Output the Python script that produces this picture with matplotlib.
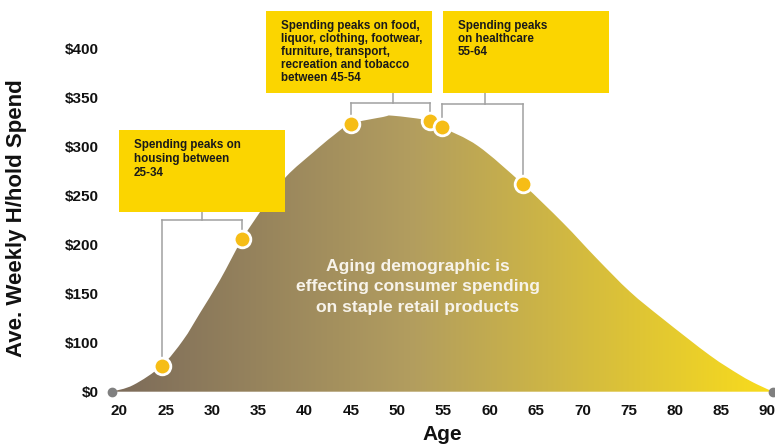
import numpy as np
import matplotlib
matplotlib.use('Agg')
import matplotlib.pyplot as plt
from matplotlib.colors import LinearSegmentedColormap
from matplotlib.patches import PathPatch, Rectangle
from matplotlib.path import Path

plt.rcParams['font.family'] = ['Liberation Sans', 'DejaVu Sans']
plt.rcParams['font.weight'] = 'bold'

# curve (y in axis units, one tick step = 50)
ages = [19.16, 21.49, 24.56, 26.89, 28.70, 30.86, 33.27, 35.90, 38.06, 40.90, 43.06,
        44.98, 48.46, 49.55, 53.54, 54.89, 58.73, 63.56, 67.94, 71.55, 75.15,
        78.74, 83.79, 87.03, 88.87, 90.63]
spend = [0, 6.8, 26.5, 52.8, 80.3, 114, 155.8, 193, 220, 244, 261,
         273.2, 280.3, 281.6, 276.5, 269.6, 250.7, 211.9, 172, 136, 102,
         74, 37, 17, 7.5, 0]

peak_ages = [24.56, 33.27, 44.98, 53.54, 54.89, 63.56]
peak_spend = [26.5, 155.8, 273.2, 276.5, 269.6, 211.9]

ytick_labels = ['$0', '$100', '$150', '$200', '$250', '$300', '$350', '$400']
xticks = list(range(20, 95, 5))

notes = [
    'Spending peaks on\nhousing between\n25-34',
    'Spending peaks on food,\nliquor, clothing, footwear,\nfurniture, transport,\nrecreation and tobacco\nbetween 45-54',
    'Spending peaks\non healthcare\n55-64',
]
# box (x0, x1, y0, y1), text x, stem x, bar y, marker pair, line spacing
note_layout = [
    ((19.95, 37.88, 183.7, 267.0), 21.57, 28.91, 175.2, (0, 1), 1.22),
    ((35.83, 53.73, 305.1, 388.5), 37.41, 49.58, 294.9, (2, 3), 1.12),
    ((54.95, 72.85, 305.1, 388.5), 56.53, 59.48, 293.6, (4, 5), 1.12),
]


def smooth_area(x, y):
    pts = np.column_stack([x, y])
    n = len(pts)
    verts = [pts[0]]
    codes = [Path.MOVETO]
    for k in range(n - 1):
        p0, p1 = pts[max(k - 1, 0)], pts[k]
        p2, p3 = pts[k + 1], pts[min(k + 2, n - 1)]
        verts += [p1 + (p2 - p0) / 6, p2 - (p3 - p1) / 6, p2]
        codes += [Path.CURVE4] * 3
    verts += [pts[0], pts[0]]
    codes += [Path.LINETO, Path.CLOSEPOLY]
    return Path(verts, codes)


fig = plt.figure(figsize=(7.75, 4.48), dpi=100)
ax = fig.add_axes([111.7 / 775, (448 - 396.6) / 448, 661.6 / 775, (396.6 - 38.9) / 448])

cmap = LinearSegmentedColormap.from_list('spend', [(0, '#7c6b5a'), (0.45, '#b29d5f'), (1, '#f9dc1c')])
grad = np.linspace(0, 1, 256).reshape(1, -1)
im = ax.imshow(grad, cmap=cmap, extent=[ages[0], ages[-1], 0, max(spend) + 5],
               aspect='auto', zorder=1)
area = PathPatch(smooth_area(ages, spend), facecolor='none', edgecolor='none')
ax.add_patch(area)
im.set_clip_path(area)

ax.plot([ages[0], ages[-1]], [0, 0], 'o', ms=6, color='#808080', zorder=3, clip_on=False)
ax.plot(peak_ages, peak_spend, 'o', ms=12, mfc='#f6bd16', mec='white', mew=2,
        zorder=5, clip_on=False)

line_kw = dict(color='#a0a0a0', lw=1.1, zorder=4, clip_on=False)
for text, (box, tx, stem_x, bar_y, (i, j), ls) in zip(notes, note_layout):
    x0, x1, y0, y1 = box
    ax.add_patch(Rectangle((x0, y0), x1 - x0, y1 - y0, facecolor='#fbd500',
                           edgecolor='none', zorder=6, clip_on=False))
    ax.text(tx, y1 - 9, text, fontsize=8.4, color='#1a1a1a', va='top', ha='left',
            linespacing=ls, zorder=7, clip_on=False)
    ax.plot([stem_x, stem_x], [y0, bar_y], **line_kw)
    ax.plot([peak_ages[i], peak_ages[j]], [bar_y, bar_y], **line_kw)
    ax.plot([peak_ages[i], peak_ages[i]], [bar_y, peak_spend[i] + 9], **line_kw)
    ax.plot([peak_ages[j], peak_ages[j]], [bar_y, peak_spend[j] + 9], **line_kw)

ax.text(52.25, 107, 'Aging demographic is\neffecting consumer spending\non staple retail products',
        fontsize=12.6, color='#f7f3ea', ha='center', va='center', linespacing=1.45, zorder=3)

ax.set_xlim(ages[0], ages[-1])
ax.set_ylim(-5, 360)
ax.set_xticks(xticks)
ax.set_yticks(np.arange(len(ytick_labels)) * 50, ytick_labels)
ax.tick_params(length=0, labelsize=11, labelcolor='#111111')
ax.tick_params(axis='y', pad=9.6)
ax.tick_params(axis='x', pad=5.3)
for s in ax.spines.values():
    s.set_visible(False)

ax.set_xlabel('Age', fontsize=15, fontweight='bold', color='#111111', labelpad=5)
fig.text(17 / 775, 1 - 218 / 448, 'Ave. Weekly H/hold Spend', rotation=90, fontsize=16,
         fontweight='bold', color='#111111', ha='center', va='center')

fig.savefig('out.png', dpi=100)
